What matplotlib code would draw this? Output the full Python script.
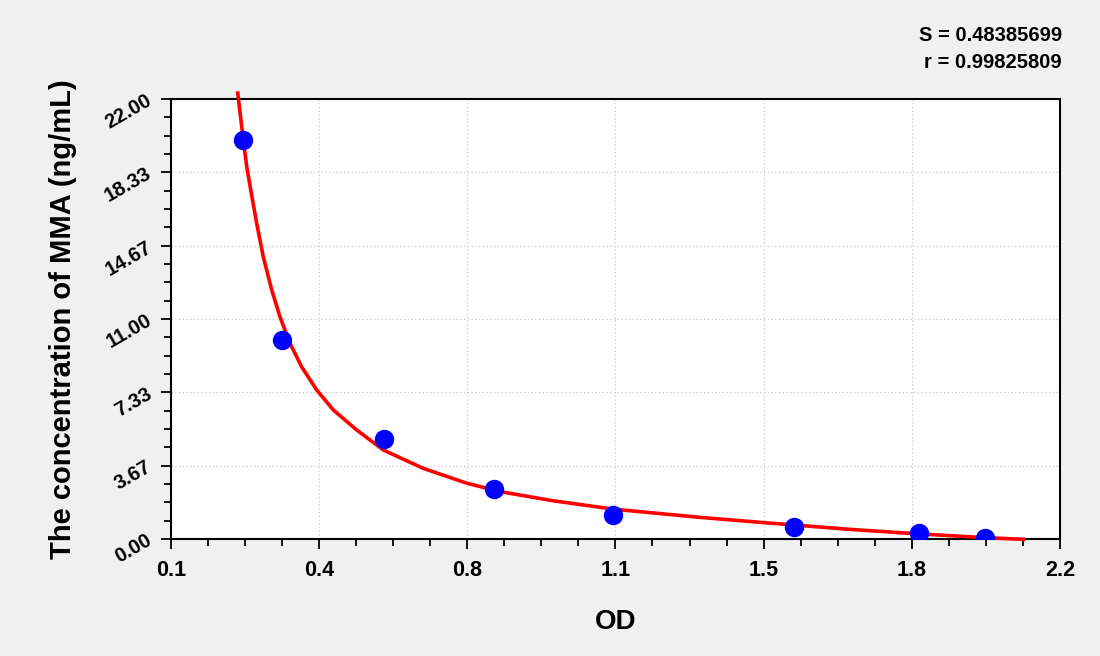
import numpy as np
import matplotlib
matplotlib.use("Agg")
import matplotlib.pyplot as plt
from matplotlib.ticker import AutoMinorLocator, FixedLocator

# Pontos medidos (OD, concentracao)
od_pontos = [0.270, 0.362, 0.603, 0.863, 1.144, 1.572, 1.867, 2.023]
conc_pontos = [19.95, 9.95, 5.00, 2.50, 1.20, 0.60, 0.30, 0.05]

# Curva ajustada
od_curva = [0.2576, 0.271, 0.279, 0.2883, 0.3024, 0.318, 0.3379, 0.3575,
            0.3811, 0.4088, 0.4442, 0.4834, 0.5387, 0.6015, 0.696, 0.7986,
            0.8772, 1.0, 1.146, 1.35, 1.499, 1.704, 1.869, 2.011, 2.114]
conc_curva = [22.3, 19.9, 18.6, 17.45, 15.78, 14.1, 12.45, 11.1,
              9.78, 8.6, 7.45, 6.45, 5.45, 4.45, 3.53, 2.79,
              2.37, 1.92, 1.49, 1.08, 0.82, 0.48, 0.25, 0.08, -0.02]

x_ticks = [0.1, 0.45, 0.8, 1.15, 1.5, 1.85, 2.2]
x_labels = ['0.1', '0.4', '0.8', '1.1', '1.5', '1.8', '2.2']
y_ticks = [0.0, 22/6, 44/6, 11.0, 88/6, 110/6, 22.0]
y_labels = ['0.00', '3.67', '7.33', '11.00', '14.67', '18.33', '22.00']

texto_s = 'S = 0.48385699'
texto_r = 'r = 0.99825809'

plt.rcParams['font.family'] = ['Liberation Sans', 'DejaVu Sans']

fig = plt.figure(figsize=(11, 6.56), dpi=100, facecolor='#f0f0f0')
ax = fig.add_axes([0.1555, 0.1784, 0.808, 0.6706])
ax.set_facecolor('white')

ax.set_xlim(0.1, 2.2)
ax.set_ylim(0.0, 22.0)

ax.xaxis.set_major_locator(FixedLocator(x_ticks))
ax.yaxis.set_major_locator(FixedLocator(y_ticks))
ax.set_xticklabels(x_labels, fontsize=15.5, fontweight='bold')
ax.set_yticklabels(y_labels, fontsize=14.5, fontweight='bold',
                   rotation=30, ha='right', va='center', rotation_mode='anchor')
ax.xaxis.set_minor_locator(AutoMinorLocator(4))
ax.yaxis.set_minor_locator(AutoMinorLocator(4))
ax.tick_params(which='both', direction='out', width=1.3, colors='black')
ax.tick_params(which='major', length=7)
ax.tick_params(which='minor', length=5)
ax.tick_params(axis='x', pad=8)
ax.tick_params(axis='y', pad=8)

for s in ax.spines.values():
    s.set_linewidth(1.5)

ax.grid(True, which='major', linestyle=(0, (1, 2)), color='#c8c8c8', linewidth=0.9)
ax.set_axisbelow(True)

ax.plot(od_curva, conc_curva, color='#ff0000', lw=2.6, clip_on=False,
        zorder=3, solid_joinstyle='round')
ax.plot(od_pontos, conc_pontos, 'o', color='#0000ff', markersize=14,
        markeredgewidth=0, zorder=4)

ax.set_xlabel('OD', fontsize=20, fontweight='bold', labelpad=20)
ax.set_ylabel('The concentration of MMA (ng/mL)', fontsize=21,
              fontweight='bold', labelpad=18)

fig.text(0.9655, 0.946, texto_s, ha='right', va='center', fontsize=14.5,
         fontweight='bold')
fig.text(0.9655, 0.905, texto_r, ha='right', va='center', fontsize=14.5,
         fontweight='bold')

fig.savefig('out.png', dpi=100, facecolor=fig.get_facecolor())
